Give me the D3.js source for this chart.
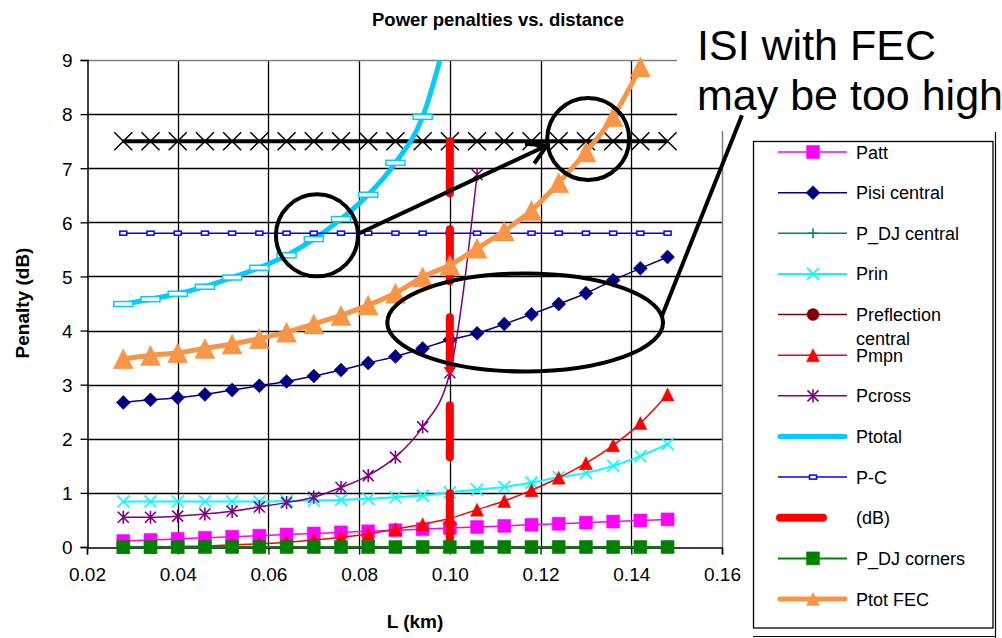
<!DOCTYPE html>
<html>
<head>
<meta charset="utf-8">
<script src="https://cdn.jsdelivr.net/npm/d3@7.9.0/dist/d3.min.js"></script>
<style>
  html, body { margin: 0; padding: 0; background: #fff; }
  svg { display: block; font-family: "Liberation Sans", Arial, sans-serif; }
</style>
</head>
<body>
<svg id="chart" width="1002" height="638"></svg>
<script>
// distance points (km)
const distance = [0.028, 0.034, 0.040, 0.046, 0.052, 0.058, 0.064, 0.070, 0.076, 0.082, 0.088,
                  0.094, 0.100, 0.106, 0.112, 0.118, 0.124, 0.130, 0.136, 0.142, 0.148];

// penalties (dB)
const patt       = [0.11, 0.13, 0.15, 0.17, 0.19, 0.21, 0.23, 0.25, 0.27, 0.29, 0.31,
                    0.33, 0.35, 0.37, 0.39, 0.41, 0.43, 0.45, 0.47, 0.49, 0.51];
const pisiCentral = [2.67, 2.72, 2.76, 2.82, 2.90, 2.98, 3.06, 3.16, 3.27, 3.40, 3.52,
                     3.67, 3.83, 3.95, 4.12, 4.30, 4.49, 4.69, 4.93, 5.15, 5.36];
const pdjCentral = [0, 0, 0, 0, 0, 0, 0, 0, 0, 0, 0, 0, 0, 0, 0, 0, 0, 0, 0, 0, 0];
const prin       = [0.84, 0.84, 0.84, 0.84, 0.84, 0.84, 0.85, 0.86, 0.87, 0.89, 0.92,
                    0.95, 1.01, 1.06, 1.11, 1.19, 1.29, 1.37, 1.50, 1.68, 1.90];
const preflectionCentral = [0, 0, 0, 0, 0, 0, 0, 0, 0, 0, 0, 0, 0, 0, 0, 0, 0, 0, 0, 0, 0];
const pmpn       = [0.00, 0.00, 0.01, 0.02, 0.04, 0.06, 0.09, 0.13, 0.18, 0.24, 0.33,
                    0.42, 0.53, 0.69, 0.85, 1.05, 1.28, 1.55, 1.88, 2.29, 2.82];
const pcross     = [0.55, 0.55, 0.57, 0.61, 0.66, 0.74, 0.82, 0.92, 1.10, 1.32, 1.66,
                    2.22, 3.22, 6.88];
const ptotal     = [4.49, 4.58, 4.68, 4.81, 4.98, 5.16, 5.39, 5.69, 6.06, 6.51, 7.10,
                    7.95, 9.70];
const pc         = [5.8, 5.8, 5.8, 5.8, 5.8, 5.8, 5.8, 5.8, 5.8, 5.8, 5.8,
                    5.8, 5.8, 5.8, 5.8, 5.8, 5.8, 5.8, 5.8, 5.8, 5.8];
const dbX        = [0.100, 0.100];
const dbY        = [7.5, 0];
const pdjCorners = [0, 0, 0, 0, 0, 0, 0, 0, 0, 0, 0, 0, 0, 0, 0, 0, 0, 0, 0, 0, 0];
const ptotFec    = [3.48, 3.54, 3.59, 3.67, 3.75, 3.85, 3.97, 4.12, 4.28, 4.47, 4.69,
                    4.99, 5.21, 5.52, 5.84, 6.22, 6.73, 7.30, 7.95, 8.87];
// FEC limit line (not in legend)
const fecLimit   = [7.5, 7.5, 7.5, 7.5, 7.5, 7.5, 7.5, 7.5, 7.5, 7.5, 7.5,
                    7.5, 7.5, 7.5, 7.5, 7.5, 7.5, 7.5, 7.5, 7.5, 7.5];

const xTicks = [0.02, 0.04, 0.06, 0.08, 0.10, 0.12, 0.14, 0.16];
const xTickLabels = ['0.02', '0.04', '0.06', '0.08', '0.10', '0.12', '0.14', '0.16'];
const yTicks = [0, 1, 2, 3, 4, 5, 6, 7, 8, 9];

// annotation anchors in data units
const circleAnn = [[0.0707, 5.76], [0.1305, 7.54]];
const ellipseAnn = { cx: 0.1166, cy: 4.15, rx: 0.0304, ry: 0.906 };
const arrowAnn = [[0.0798, 5.79], [0.1214, 7.42]];
const calloutAnn = [[0.1468, 4.28], [0.1644, 7.98]];

const svg = d3.select('#chart');
const x = d3.scaleLinear().domain([0.02, 0.16]).range([87, 722]);
const y = d3.scaleLinear().domain([0, 9]).range([547, 60]);

// marker shapes
function markerPath(type, s) {
  const h = s / 2;
  switch (type) {
    case 'square': return `M${-h},${-h}H${h}V${h}H${-h}Z`;
    case 'diamond': return `M0,${-h}L${h},0L0,${h}L${-h},0Z`;
    case 'triangle': return `M0,${-h}L${h},${h}L${-h},${h}Z`;
    case 'x': return `M${-h},${-h}L${h},${h}M${h},${-h}L${-h},${h}`;
    case 'plus': return `M${-h},0H${h}M0,${-h}V${h}`;
    case 'star': return `M${-h},${-h}L${h},${h}M${h},${-h}L${-h},${h}M0,${-h * 1.2}V${h * 1.2}`;
    case 'circle': return d3.arc()({ innerRadius: 0, outerRadius: h, startAngle: 0, endAngle: 2 * Math.PI });
  }
  return '';
}

function drawMarker(g, m, cx, cy, color, legend) {
  if (!m) return;
  if (m.type === 'bar') {
    g.append('rect')
      .attr('x', cx - m.w / 2).attr('y', cy - m.h / 2)
      .attr('width', m.w).attr('height', m.h)
      .attr('fill', '#fff').attr('stroke', color).attr('stroke-width', 1.5);
    return;
  }
  const s = legend && m.legendSize ? m.legendSize : m.size;
  const open = m.type === 'x' || m.type === 'plus' || m.type === 'star';
  g.append('path')
    .attr('transform', `translate(${cx},${cy})`)
    .attr('d', markerPath(m.type, s))
    .attr('fill', open ? 'none' : color)
    .attr('stroke', color)
    .attr('stroke-width', open ? 1.6 : 0.5);
}

const series = [
  { name: 'Patt', xs: distance, ys: patt, color: '#FF00FF', width: 1.5, marker: { type: 'square', size: 13 } },
  { name: 'Pisi central', xs: distance, ys: pisiCentral, color: '#000080', width: 1.5, marker: { type: 'diamond', size: 14 } },
  { name: 'P_DJ central', xs: distance, ys: pdjCentral, color: '#008080', width: 1.5, marker: { type: 'plus', size: 10 } },
  { name: 'Prin', xs: distance, ys: prin, color: '#00FFFF', width: 2, marker: { type: 'x', size: 12 } },
  { name: ['Preflection', 'central'], xs: distance, ys: preflectionCentral, color: '#800000', width: 1.5, marker: { type: 'circle', size: 12 } },
  { name: 'Pmpn', xs: distance, ys: pmpn, color: '#FF0000', width: 1.5, marker: { type: 'triangle', size: 13 } },
  { name: 'Pcross', xs: distance, ys: pcross, color: '#800080', width: 1.5, marker: { type: 'star', size: 11 } },
  { name: 'Ptotal', xs: distance, ys: ptotal, color: '#00CCFF', width: 5, clip: true, marker: { type: 'bar', w: 19, h: 5 }, noLegendMarker: true },
  { name: 'P-C', xs: distance, ys: pc, color: '#0000FF', width: 1.5, marker: { type: 'bar', w: 7, h: 4 } },
  { name: '(dB)', xs: dbX, ys: dbY, color: '#FF0000', width: 8, dash: '52,36', straight: true },
  { name: 'P_DJ corners', xs: distance, ys: pdjCorners, color: '#008000', width: 2, marker: { type: 'square', size: 13 } },
  { name: 'Ptot FEC', xs: distance, ys: ptotFec, color: '#F79646', width: 5, marker: { type: 'triangle', size: 20, legendSize: 13 } }
];

// clip for the plot area
svg.append('clipPath').attr('id', 'plotClip')
  .append('rect').attr('x', 87).attr('y', 60).attr('width', 635).attr('height', 487);

// title
svg.append('text')
  .attr('x', 498).attr('y', 26)
  .attr('text-anchor', 'middle')
  .attr('font-weight', 'bold').attr('font-size', 18.5)
  .text('Power penalties vs. distance');

// grid
const grid = svg.append('g');
yTicks.slice(1, -1).forEach(v => {
  grid.append('line').attr('x1', 87).attr('x2', 722)
    .attr('y1', Math.round(y(v)) + 0.5).attr('y2', Math.round(y(v)) + 0.5)
    .attr('stroke', '#000').attr('stroke-width', 1.3);
});
xTicks.slice(1, -1).forEach(v => {
  grid.append('line').attr('y1', 60).attr('y2', 547)
    .attr('x1', Math.round(x(v)) + 0.5).attr('x2', Math.round(x(v)) + 0.5)
    .attr('stroke', '#000').attr('stroke-width', 1.3);
});
// plot border top/right
grid.append('path')
  .attr('d', `M87,60.5H722.5V547`)
  .attr('fill', 'none').attr('stroke', '#808080').attr('stroke-width', 1.5);

// axes
const yAxis = d3.axisLeft(y).tickValues(yTicks).tickSize(7).tickFormat(d3.format('d'));
const xAxis = d3.axisBottom(x).tickValues(xTicks).tickSize(7).tickFormat((d, i) => xTickLabels[i]);
const gy = svg.append('g').attr('transform', 'translate(87.5,0)').call(yAxis);
const gx = svg.append('g').attr('transform', 'translate(0,547.5)').call(xAxis);
[gy, gx].forEach(g => {
  g.select('.domain').attr('stroke', '#000').attr('stroke-width', 1.5);
  g.selectAll('.tick line').attr('stroke', '#000').attr('stroke-width', 1.3);
  g.selectAll('.tick text')
    .attr('font-family', '"Liberation Sans", Arial, sans-serif')
    .attr('font-size', 19).attr('fill', '#000');
});
gy.selectAll('.tick text').attr('x', -15).attr('dy', '0.36em');
gx.selectAll('.tick text').attr('y', 20);

// axis titles
svg.append('text')
  .attr('transform', 'translate(29,303) rotate(-90)')
  .attr('text-anchor', 'middle')
  .attr('font-weight', 'bold').attr('font-size', 19)
  .text('Penalty (dB)');
svg.append('text')
  .attr('x', 415).attr('y', 628)
  .attr('text-anchor', 'middle')
  .attr('font-weight', 'bold').attr('font-size', 19)
  .text('L (km)');

// series
const plot = svg.append('g');
const smooth = d3.line().curve(d3.curveMonotoneX);

function drawSeries(s) {
  const g = plot.append('g');
  if (s.clip) g.attr('clip-path', 'url(#plotClip)');
  const pts = s.ys.map((v, i) => [x(s.xs[i]), y(v)]);
  g.append('path')
    .attr('d', (s.straight ? d3.line() : smooth)(pts))
    .attr('fill', 'none')
    .attr('stroke', s.color)
    .attr('stroke-width', s.width)
    .attr('stroke-linecap', s.dash ? 'round' : 'butt')
    .attr('stroke-linejoin', 'round')
    .attr('stroke-dasharray', s.dash || null);
  if (s.marker) pts.forEach(p => drawMarker(g, s.marker, p[0], p[1], s.color, false));
}

// FEC limit first (lies under the others)
(() => {
  const g = plot.append('g');
  const pts = fecLimit.map((v, i) => [x(distance[i]), y(v)]);
  g.append('path').attr('d', d3.line()(pts))
    .attr('fill', 'none').attr('stroke', '#000').attr('stroke-width', 4);
  pts.forEach(p => g.append('path')
    .attr('transform', `translate(${p[0]},${p[1]})`)
    .attr('d', markerPath('x', 18))
    .attr('fill', 'none').attr('stroke', '#000').attr('stroke-width', 1.5));
})();

series.forEach(drawSeries);

// annotations
const ann = svg.append('g').attr('fill', 'none').attr('stroke', '#000').attr('stroke-width', 4);
circleAnn.forEach(c => {
  ann.append('circle').attr('cx', x(c[0])).attr('cy', y(c[1])).attr('r', 41);
});
ann.append('ellipse')
  .attr('cx', x(ellipseAnn.cx)).attr('cy', y(ellipseAnn.cy))
  .attr('rx', x(0.02 + ellipseAnn.rx) - x(0.02))
  .attr('ry', y(0) - y(ellipseAnn.ry));

const a0 = [x(arrowAnn[0][0]), y(arrowAnn[0][1])];
const a1 = [x(arrowAnn[1][0]), y(arrowAnn[1][1])];
ann.append('line').attr('x1', a0[0]).attr('y1', a0[1]).attr('x2', a1[0]).attr('y2', a1[1]);
const ang = Math.atan2(a1[1] - a0[1], a1[0] - a0[0]) + Math.PI;
const wing = 22;
ann.append('path')
  .attr('d', `M${a1[0] + wing * Math.cos(ang - 0.52)},${a1[1] + wing * Math.sin(ang - 0.52)}` +
             `L${a1[0]},${a1[1]}` +
             `L${a1[0] + wing * Math.cos(ang + 0.52)},${a1[1] + wing * Math.sin(ang + 0.52)}`)
  .attr('stroke-linejoin', 'miter');

// text box covering the top-right corner
svg.append('rect').attr('x', 677).attr('y', 0).attr('width', 325).attr('height', 131).attr('fill', '#fff');
svg.append('text').attr('x', 697).attr('y', 60).attr('font-size', 43).text('ISI with FEC');
svg.append('text').attr('x', 697).attr('y', 110).attr('font-size', 43).text('may be too high');

ann.append('line')
  .attr('x1', x(calloutAnn[0][0])).attr('y1', y(calloutAnn[0][1]))
  .attr('x2', x(calloutAnn[1][0])).attr('y2', y(calloutAnn[1][1]))
  .raise();
svg.node().appendChild(ann.node());

// legend
const lg = svg.append('g');
lg.append('path').attr('d', 'M995.5,132V638M753,636.5H996')
  .attr('fill', 'none').attr('stroke', '#000').attr('stroke-width', 1.2);
lg.append('rect').attr('x', 753.5).attr('y', 141.5).attr('width', 239.5).attr('height', 486.5)
  .attr('fill', '#fff').attr('stroke', '#000').attr('stroke-width', 1.3);

const legendTop = 152, legendStep = 40.64;
series.forEach((s, i) => {
  const ly = legendTop + i * legendStep;
  const g = lg.append('g');
  const thick = s.width >= 5;
  const x2 = s.dash ? 823 : (thick ? 845 : 847);
  const x1 = thick ? 780 : 778;
  g.append('line').attr('x1', x1).attr('x2', x2).attr('y1', ly).attr('y2', ly)
    .attr('stroke', s.color).attr('stroke-width', s.width)
    .attr('stroke-linecap', thick ? 'round' : 'butt');
  if (s.marker && !s.noLegendMarker) drawMarker(g, s.marker, 813, ly, s.color, true);
  const names = Array.isArray(s.name) ? s.name : [s.name];
  const t = g.append('text').attr('x', 856).attr('y', ly + 6.5).attr('font-size', 18);
  names.forEach((n, k) => t.append('tspan').attr('x', 856).attr('dy', k === 0 ? 0 : 24).text(n));
});
</script>
</body>
</html>
